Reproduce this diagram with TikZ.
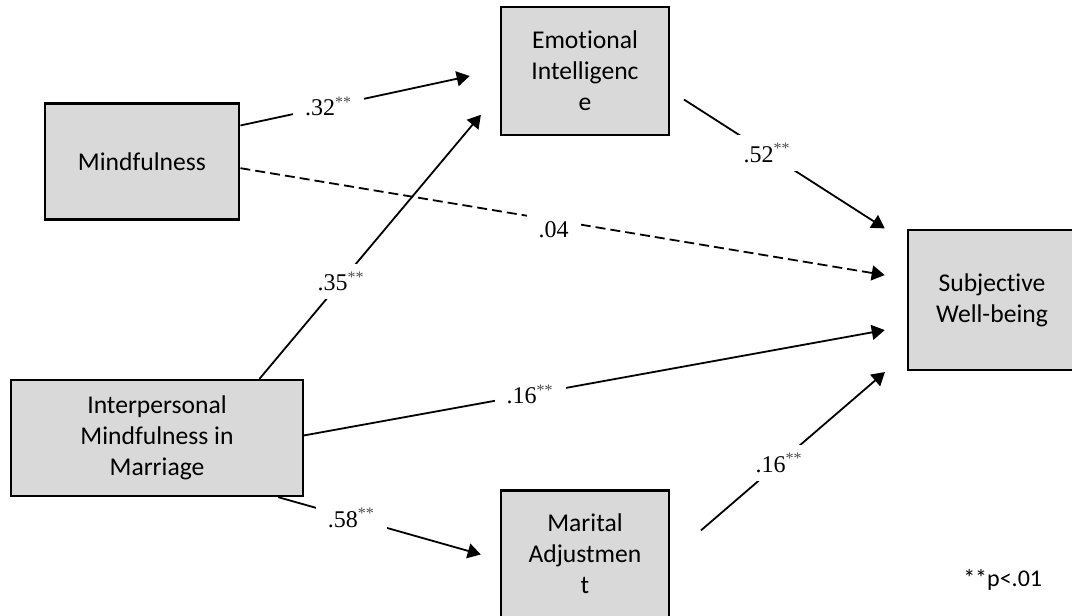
\documentclass[tikz,border=0pt]{standalone}
\usepackage{fontspec}
\setmainfont{Carlito}[Ligatures=NoCommon]
\newfontfamily\coeffont{Liberation Serif}
\usepackage{xcolor}
\usepackage{tikz}
\usetikzlibrary{arrows.meta,positioning}

\definecolor{boxgray}{HTML}{D9D9D9}
\newcommand{\sigstar}{\textsuperscript{\color{black!70}**}}

\begin{document}
\begin{tikzpicture}[x=0.5pt, y=-0.5pt,
  var/.style={rectangle, draw, line width=1.2pt, fill=boxgray,
              align=center, inner sep=0pt,
              font=\fontsize{12.8}{15.5}\selectfont},
  coef/.style={fill=white, inner xsep=6pt, inner ysep=4pt,
               font=\coeffont\fontsize{12}{14}\selectfont},
  link/.style={line width=0.9pt, -{Triangle[length=6.5pt,width=7.5pt]}},
  nslink/.style={link, dash pattern=on 5pt off 2.5pt}
]
  \useasboundingbox (0,0) rectangle (1072,616);

  % variables
  \node[var, minimum width=97.25pt, minimum height=58pt] (mind) at (142,161.3) {Mindfulness};
  \node[var, minimum width=145.8pt, minimum height=58pt] (imm) at (157,438) {Interpersonal\\Mindfulness in\\Marriage};
  \node[var, minimum width=84pt, minimum height=64pt] (ei) at (585,71) {Emotional\\Intelligenc\\e};
  \node[var, minimum width=84pt, minimum height=63.5pt, below=176.5pt of ei] (ma) {Marital\\Adjustmen\\t};
  \node[var, minimum width=84pt, minimum height=70pt] (swb) at (992,300) {Subjective\\Well-being};

  % paths
  \draw[link, shorten >=15.4pt] (mind.20) -- node[coef, pos=.34] {.32\sigstar} (ei.179);
  \draw[nslink, shorten >=11.2pt] (mind.-4) -- node[coef, pos=.47, yshift=-5pt] {.04} (swb.166);
  \draw[link, shorten >=14.7pt] (imm.30) -- node[coef, pos=.34] {.35\sigstar} (ei.194);
  \draw[link, shorten >=11.2pt] (imm.1) -- node[coef, pos=.375] {.16\sigstar} (swb.197);
  \draw[link, shorten >=9.9pt] (imm.-26) -- node[coef, pos=.33] {.58\sigstar} (ma.184);
  \draw[link, shorten <=8.2pt, shorten >=13.1pt] (ei.-13) -- node[coef, pos=.41] {.52\sigstar} (swb.146);
  \draw[link, shorten <=20.3pt, shorten >=14.4pt] (ma.-2) -- node[coef, pos=.46] {.16\sigstar} (swb.212);

  \node[font=\fontsize{12}{14}\selectfont] (note) at (1002.7,580) {**p<.01};
\end{tikzpicture}
\end{document}
